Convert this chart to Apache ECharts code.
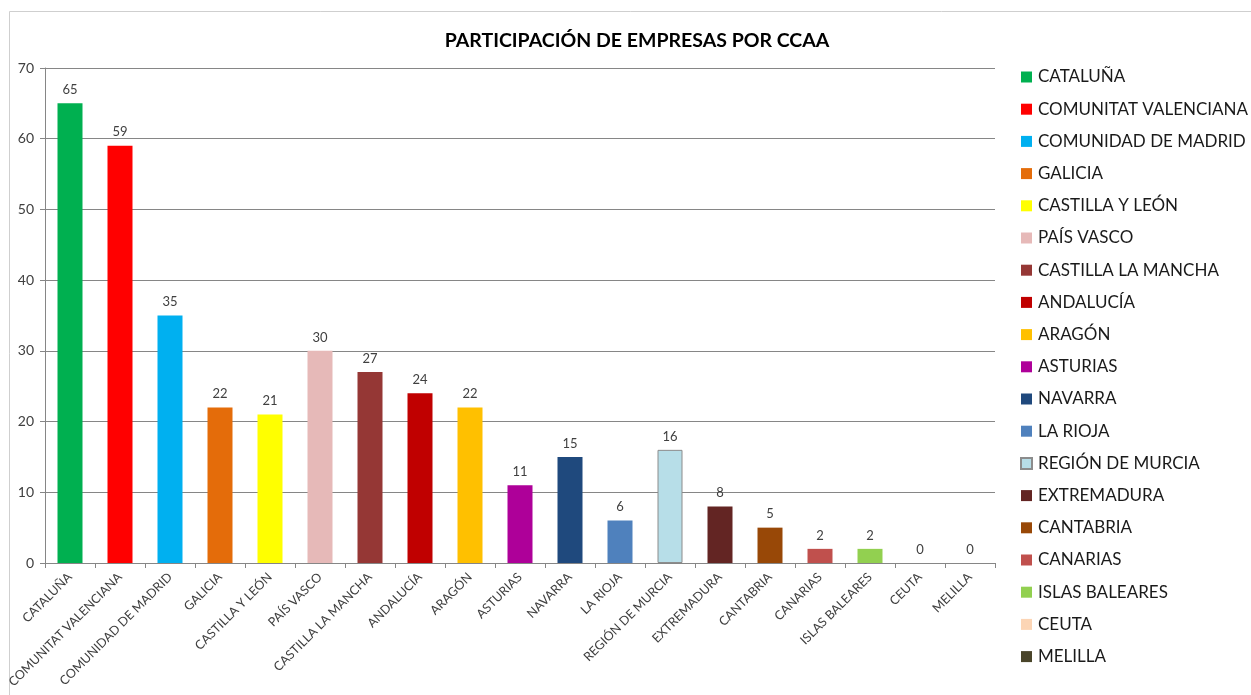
<!DOCTYPE html>
<html>
<head>
<meta charset="utf-8">
<script src="https://cdn.jsdelivr.net/npm/echarts@6/dist/echarts.min.js"></script>
<style>
    html, body { margin: 0; padding: 0; background: #fff; }
    #chart { width: 1251px; height: 695px; }
</style>
</head>
<body>
<div id="chart"></div>
<script>
// Comunidades autónomas y número de empresas
const regiones = ['CATALUÑA', 'COMUNITAT VALENCIANA', 'COMUNIDAD DE MADRID', 'GALICIA', 'CASTILLA Y LEÓN',
    'PAÍS VASCO', 'CASTILLA LA MANCHA', 'ANDALUCÍA', 'ARAGÓN', 'ASTURIAS', 'NAVARRA', 'LA RIOJA',
    'REGIÓN DE MURCIA', 'EXTREMADURA', 'CANTABRIA', 'CANARIAS', 'ISLAS BALEARES', 'CEUTA', 'MELILLA'];
const empresas = [65, 59, 35, 22, 21, 30, 27, 24, 22, 11, 15, 6, 16, 8, 5, 2, 2, 0, 0];
const yTicks = [0, 10, 20, 30, 40, 50, 60, 70];

const colores = ['#00B050', '#FF0000', '#00B0F0', '#E46C0A', '#FFFF00', '#E6B9B8', '#953735', '#C00000',
    '#FFC000', '#AE0099', '#1F497D', '#4F81BD', '#B7DEE8', '#632523', '#984807', '#C0504D', '#92D050',
    '#FCD5B5', '#4A452A'];

const fuente = 'Lato, "Open Sans", sans-serif';

const chart = echarts.init(document.getElementById('chart'), null, { renderer: 'canvas' });

// una serie por comunidad para que cada una tenga su entrada en la leyenda
const series = regiones.map((nombre, i) => ({
    name: nombre,
    type: 'bar',
    stack: 'total',
    barWidth: 25,
    data: empresas.map((v, j) => (j === i ? v : '-')),
    itemStyle: {
        color: colores[i],
        borderColor: nombre === 'REGIÓN DE MURCIA' ? '#8c8c8c' : colores[i],
        borderWidth: nombre === 'REGIÓN DE MURCIA' ? 1 : 0
    },
    label: {
        show: true,
        position: 'top',
        distance: 7,
        color: '#404040',
        fontFamily: fuente,
        fontSize: 13
    },
    emphasis: { disabled: true }
}));

chart.setOption({
    animation: false,
    backgroundColor: '#fff',
    graphic: [{
        type: 'rect',
        shape: { x: 9.5, y: 11.5, width: 1300, height: 800 },
        style: { fill: 'none', stroke: '#cfcfcf', lineWidth: 1 },
        silent: true
    }],
    title: {
        text: 'PARTICIPACIÓN DE EMPRESAS POR CCAA',
        left: 632,
        top: 26,
        textAlign: 'center',
        textStyle: {
            fontFamily: fuente,
            fontSize: 19.5,
            fontWeight: 'bold',
            color: '#000'
        }
    },
    legend: {
        orient: 'vertical',
        left: 1020,
        top: 68,
        padding: 0,
        itemWidth: 11,
        itemHeight: 11,
        itemGap: 14.2,
        icon: 'rect',
        data: regiones,
        textStyle: {
            fontFamily: fuente,
            fontSize: 17,
            lineHeight: 18,
            color: '#1a1a1a',
            padding: [0, 0, 0, 1]
        }
    },
    grid: {
        left: 45,
        top: 68,
        right: 256,
        bottom: 132,
        containLabel: false
    },
    xAxis: {
        type: 'category',
        data: regiones,
        axisLine: { lineStyle: { color: '#868686', width: 1 } },
        axisTick: { show: true, length: 5, lineStyle: { color: '#868686' } },
        axisLabel: {
            rotate: 45,
            interval: 0,
            fontFamily: fuente,
            fontSize: 12.5,
            color: '#404040',
            margin: 12
        }
    },
    yAxis: {
        type: 'value',
        min: yTicks[0],
        max: yTicks[yTicks.length - 1],
        interval: 10,
        axisLine: { show: true, lineStyle: { color: '#868686' } },
        axisTick: { show: true, length: 5, lineStyle: { color: '#868686' } },
        splitLine: { lineStyle: { color: '#868686', width: 1 } },
        axisLabel: {
            fontFamily: fuente,
            fontSize: 14,
            color: '#404040',
            margin: 11
        }
    },
    series: series
});
</script>
</body>
</html>
